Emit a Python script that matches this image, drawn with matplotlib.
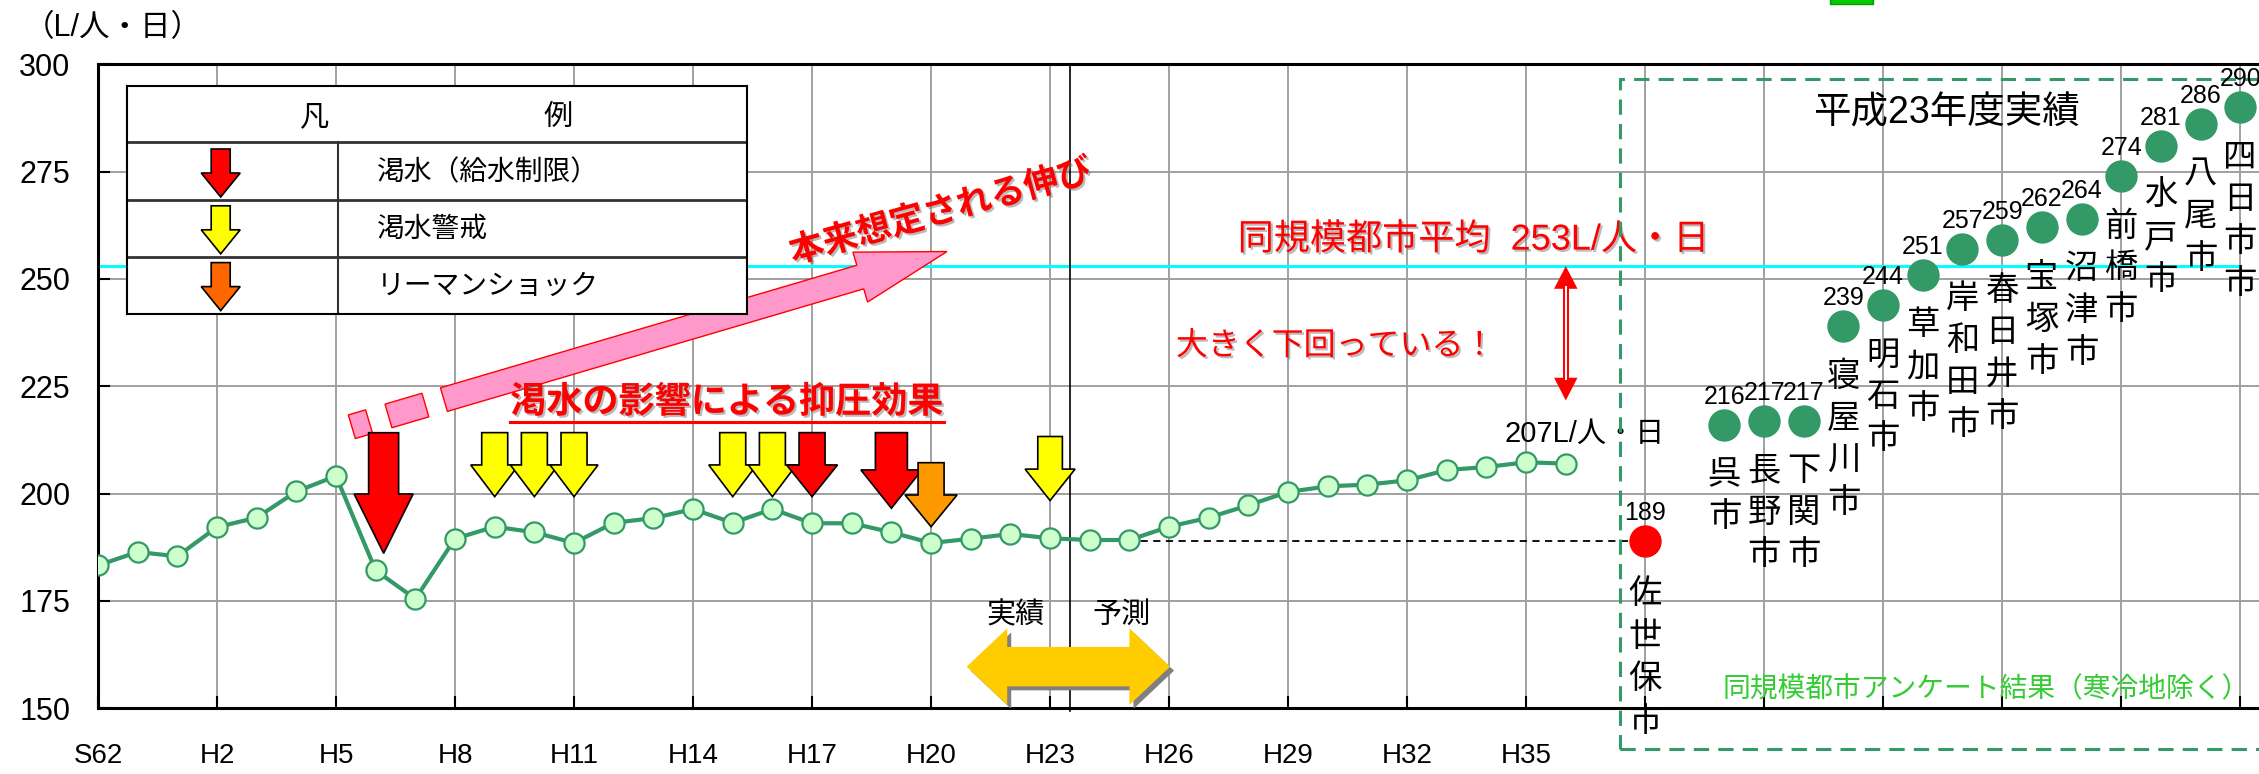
import matplotlib
matplotlib.use("Agg")
import matplotlib.pyplot as plt
import matplotlib.patheffects as pe
from matplotlib.patches import Polygon, Rectangle
from matplotlib.transforms import Affine2D, ScaledTranslation
import numpy as np

plt.rcParams['font.family'] = ['Liberation Sans', 'Noto Sans CJK JP', 'DejaVu Sans']

W, H, DPI = 2259, 774, 100

# 一人一日平均給水量 (L/人・日)  S62 .. H36, one slot per year
usage = [183.3, 186.4, 185.4, 192.2, 194.4, 200.5, 204.1, 182.1, 175.5, 189.5,
         192.3, 191.0, 188.5, 193.2, 194.3, 196.4, 193.2, 196.4, 193.1, 193.1,
         191.0, 188.5, 189.5, 190.6, 189.6, 189.2, 189.2, 192.3, 194.4, 197.3,
         200.4, 201.7, 202.1, 203.1, 205.5, 206.2, 207.3, 207.0]
year_labels = ['S62', 'H2', 'H5', 'H8', 'H11', 'H14', 'H17', 'H20', 'H23',
               'H26', 'H29', 'H32', 'H35']
last_actual = 23          # H23 まで実績、以降予測

# 渇水・リーマンショックの発生年 (平成)
event_years = [6, 9, 10, 11, 15, 16, 17, 19, 20, 23]
event_kinds = ['cut', 'warn', 'warn', 'warn', 'warn', 'warn', 'cut', 'cut', 'shock', 'warn']

# 同規模都市 平成23年度実績
city_names = ['呉市', '長野市', '下関市', '寝屋川市', '明石市', '草加市', '岸和田市',
              '春日井市', '宝塚市', '沼津市', '前橋市', '水戸市', '八尾市', '四日市市']
city_usage = [216, 217, 217, 239, 244, 251, 257, 259, 262, 264, 274, 281, 286, 290]
home_name = '佐世保市'
home_usage = 189
city_average = 253

legend_labels = ['渇水（給水制限）', '渇水警戒', 'リーマンショック']

GREEN = '#339966'
PINK = '#FF99CC'
kind_color = {'cut': '#FF0000', 'warn': '#FFFF00', 'shock': '#FF9900'}


def heisei_idx(h):
    return h + 1


def px_shape(ax, anchor, verts, rot=0.0, **kw):
    tr = Affine2D().rotate_deg(rot) + ScaledTranslation(anchor[0], anchor[1], ax.transData)
    p = Polygon(verts, closed=True, transform=tr, **kw)
    ax.add_patch(p)
    return p


def down_arrow(length, head, shaft_hw, head_hw):
    return [(0, 0), (head_hw, head), (shaft_hw, head), (shaft_hw, length),
            (-shaft_hw, length), (-shaft_hw, head), (-head_hw, head)]


fig = plt.figure(figsize=(W / DPI, H / DPI), dpi=DPI)
x0, y_top, y_bot = 98, 64.3, 708.3
ax_w = 2262 - x0
ax = fig.add_axes([x0 / W, 1 - y_bot / H, ax_w / W, (y_bot - y_top) / H])
ax.set_xlim(0, ax_w / 39.67)
ax.set_ylim(150, 300)
ax.set_autoscale_on(False)

# grid, ticks, spines
xt = np.arange(0, 55, 3)
ax.set_xticks(xt)
ax.set_xticklabels(year_labels + [''] * (len(xt) - len(year_labels)))
ax.set_yticks(np.arange(150, 301, 25))
ax.grid(True, color='#A0A0A0', lw=1.4, zorder=0)
ax.set_axisbelow(True)
ax.tick_params(axis='both', direction='in', length=8.6, width=1.5, color='black')
ax.tick_params(axis='x', labelsize=20, pad=25)
ax.tick_params(axis='y', labelsize=22, pad=20)
for side in ['left', 'top', 'bottom']:
    ax.spines[side].set_linewidth(2.2)
ax.spines['right'].set_visible(False)

idx = np.arange(len(usage))

# 同規模都市平均
ax.plot([0, 41 + len(city_names) - 1], [city_average, city_average],
        color='#00FFFF', lw=2.2, zorder=2)

# 実績/予測 境界
split_x = heisei_idx(last_actual) + 0.5
ax.plot([split_x, split_x], [149.3, 300], color='black', lw=1.2, clip_on=False, zorder=3)

# 佐世保市の現状水準
home_x = 39
ax.plot([heisei_idx(last_actual + 1), home_x], [home_usage, home_usage],
        color='black', lw=1.3, ls=(0, (4, 3)), zorder=3)

# 給水量の推移
ax.plot(idx, usage, '-o', color=GREEN, lw=3, ms=14.5, mfc='#CCFFCC', mec=GREEN,
        mew=1.6, zorder=5)
ax.annotate(f'{usage[-1]:.0f}L/人・日', xy=(idx[-1], usage[-1]), xytext=(19, 30),
            textcoords='offset pixels', ha='center', va='center', fontsize=21)

# 渇水などの矢印
shapes = {  # tip value, length, head length, shaft half width, head half width, dx
    6: (186.1, 120.6, 59.3, 15, 29.5, 0.2),
    19: (196.6, 75.6, 38.3, 16, 30.5, 0.0),
    20: (192.3, 64, 31.7, 13, 26, 0.0),
    23: (198.4, 64, 31.4, 12.3, 25, 0.0),
}
for yr, kind in zip(event_years, event_kinds):
    tip, L, hl, a, b, dx = shapes.get(yr, (199.3, 64, 31.7, 13, 24 if kind == 'warn' else 25.5, 0.0))
    px_shape(ax, (heisei_idx(yr) + dx, tip), down_arrow(L, hl, a, b),
             facecolor=kind_color[kind], edgecolor='black', lw=1.2, zorder=6)

# 本来想定される伸び
pink_anchor = (8.72, 221.9)
rot = 16.4
pink_kw = dict(facecolor=PINK, edgecolor='red', lw=1.0, zorder=4)
px_shape(ax, pink_anchor, [(0, -12.3), (434, -12.3), (434, -26), (524.4, 0),
                           (434, 26), (434, 12.3), (0, 12.3)], rot=rot, **pink_kw)
for s0, s1 in [(-57.8, -19.3), (-96, -78)]:
    px_shape(ax, pink_anchor, [(s0, -12.3), (s1, -12.3), (s1, 12.3), (s0, 12.3)],
             rot=rot, **pink_kw)

shadow = [pe.withSimplePatchShadow(offset=(1.5, -1.5), shadow_rgbFace='#777777', alpha=0.5)]
ax.text(21.25, 265.5, '本来想定される伸び', rotation=15.5, rotation_mode='anchor',
        ha='center', va='center', fontsize=25, fontweight='bold', color='red',
        path_effects=shadow, zorder=7)
supp = ax.text(10.39, 221.1, '渇水の影響による抑圧効果', ha='left', va='center',
               fontsize=26, fontweight='bold', color='red', path_effects=shadow, zorder=7)

# 実績/予測 矢印
arr_c = (split_x - 0.04, 159.7)
half = 101.7
dbl = [(-half, 0), (-half + 40.6, 38.3), (-half + 40.6, 19.7), (half - 40.6, 19.7),
       (half - 40.6, 38.3), (half, 0), (half - 40.6, -38.3), (half - 40.6, -19.7),
       (-half + 40.6, -19.7), (-half + 40.6, -38.3)]
px_shape(ax, arr_c, [(x + 4, y - 4) for x, y in dbl], facecolor='#808080',
         edgecolor='none', zorder=4)
px_shape(ax, arr_c, dbl, facecolor='#FFCC00', edgecolor='none', zorder=5)
ax.text(split_x - 1.37, 171.7, '実績', ha='center', va='center', fontsize=21, zorder=6)
ax.text(split_x + 1.3, 171.7, '予測', ha='center', va='center', fontsize=21, zorder=6)

# 同規模都市平均との差
gap_x = idx[-1]
ax.annotate(f'同規模都市平均  {city_average}L/人・日', xy=(28.73, city_average),
            xytext=(0, 26), textcoords='offset pixels', ha='left', va='center',
            fontsize=26, color='red', path_effects=shadow)
ax.text(27.17, 234.2, '大きく下回っている！', ha='left', va='center', fontsize=23,
        color='red', path_effects=shadow)
low = 221.7
Lpx = ax.transData.transform((gap_x, city_average))[1] - ax.transData.transform((gap_x, low))[1]
red_kw = dict(facecolor='red', edgecolor='none', zorder=6)
px_shape(ax, (gap_x, city_average), [(0, 0), (-11.7, -22.7), (11.7, -22.7)], **red_kw)
px_shape(ax, (gap_x, city_average), [(0, -Lpx), (-11.7, -Lpx + 22.7), (11.7, -Lpx + 22.7)], **red_kw)
px_shape(ax, (gap_x, city_average), [(-3.2, -20), (3.2, -20), (3.2, -Lpx + 20), (-3.2, -Lpx + 20)], **red_kw)
px_shape(ax, (gap_x, city_average), [(-1, -20), (1, -20), (1, -Lpx + 20), (-1, -Lpx + 20)],
         facecolor='white', edgecolor='none', zorder=7)

# 同規模都市アンケート結果
box = Rectangle((38.36, 140.5), 30, 156.1, fill=False, edgecolor=GREEN, lw=2.2,
                ls=(0, (5, 3)), clip_on=False, zorder=3)
ax.add_patch(box)
ax.text(46.6, 288.5, '平成23年度実績', ha='center', va='center', fontsize=27, zorder=6)
ax.text(40.94, 154.3, '同規模都市アンケート結果（寒冷地除く）', ha='left', va='center',
        fontsize=20, color='#33CC33', zorder=6)

city_x = np.arange(41, 41 + len(city_names))
ax.plot(city_x, city_usage, 'o', ls='none', ms=22.3, color=GREEN, zorder=6, clip_on=False)
ax.plot([home_x], [home_usage], 'o', ms=22.3, color='red', zorder=6, clip_on=False)


def label_city(x, v, name, first, step):
    ax.annotate(f'{v}', xy=(x, v), xytext=(0, 28), textcoords='offset pixels',
                ha='center', va='center', fontsize=18, zorder=7)
    for k, ch in enumerate(name):
        ax.annotate(ch, xy=(x, v), xytext=(0, -(first + step * k)),
                    textcoords='offset pixels', ha='center', va='center',
                    fontsize=24, zorder=7, annotation_clip=False)


for x, v, name in zip(city_x, city_usage, city_names):
    label_city(x, v, name, 51, 42)
label_city(home_x, home_usage, home_name, 54, 42.5)

# 抑圧効果の下線
fig.canvas.draw()
bb = supp.get_window_extent()
inv = ax.transData.inverted()
(ux0, uy), (ux1, _) = inv.transform([(bb.x0, bb.y0 - 1), (bb.x1, bb.y0 - 1)])
ax.plot([ux0, ux1], [uy, uy], color='red', lw=2.2, zorder=7)

# 凡例
lx0, ly0, lx1, ly1 = 127, 85.7, 746.9, 314.3
lg = fig.add_axes([lx0 / W, 1 - ly1 / H, (lx1 - lx0) / W, (ly1 - ly0) / H])
lg.set_zorder(10)
lg.set_xlim(0, lx1 - lx0)
lg.set_ylim(ly1 - ly0, 0)
lg.set_xticks([])
lg.set_yticks([])
for s in lg.spines.values():
    s.set_linewidth(1.5)
for yy in [56.6, 114, 171]:
    lg.plot([0, lx1 - lx0], [yy, yy], color='#333333', lw=2)
lg.plot([211, 211], [56.6, ly1 - ly0], color='#333333', lw=1.5)
lg.text(188, 31, '凡', ha='center', va='center', fontsize=21)
lg.text(431, 31, '例', ha='center', va='center', fontsize=21)
legend_colors = ['#FF0000', '#FFFF00', '#FF6600']
for k, (lab, col) in enumerate(zip(legend_labels, legend_colors)):
    top = 63.3 + 56.8 * k
    lg.add_patch(Polygon([(93.7, top + 48), (93.7 + 19.5, top + 24), (93.7 + 9.5, top + 24),
                          (93.7 + 9.5, top), (93.7 - 9.5, top), (93.7 - 9.5, top + 24),
                          (93.7 - 19.5, top + 24)], closed=True, facecolor=col,
                         edgecolor='black', lw=1.2))
    lg.text(250, top + 24.3, lab, ha='left', va='center', fontsize=20)

fig.text(24 / W, 1 - 28 / H, '（L/人・日）', ha='left', va='center', fontsize=22)
fig.patches.append(Rectangle((1830 / W, 1 - 4 / H), 43 / W, 5 / H, transform=fig.transFigure,
                             facecolor='#00CC00', edgecolor='#009900', lw=1))

fig.savefig('out.png', dpi=DPI)
